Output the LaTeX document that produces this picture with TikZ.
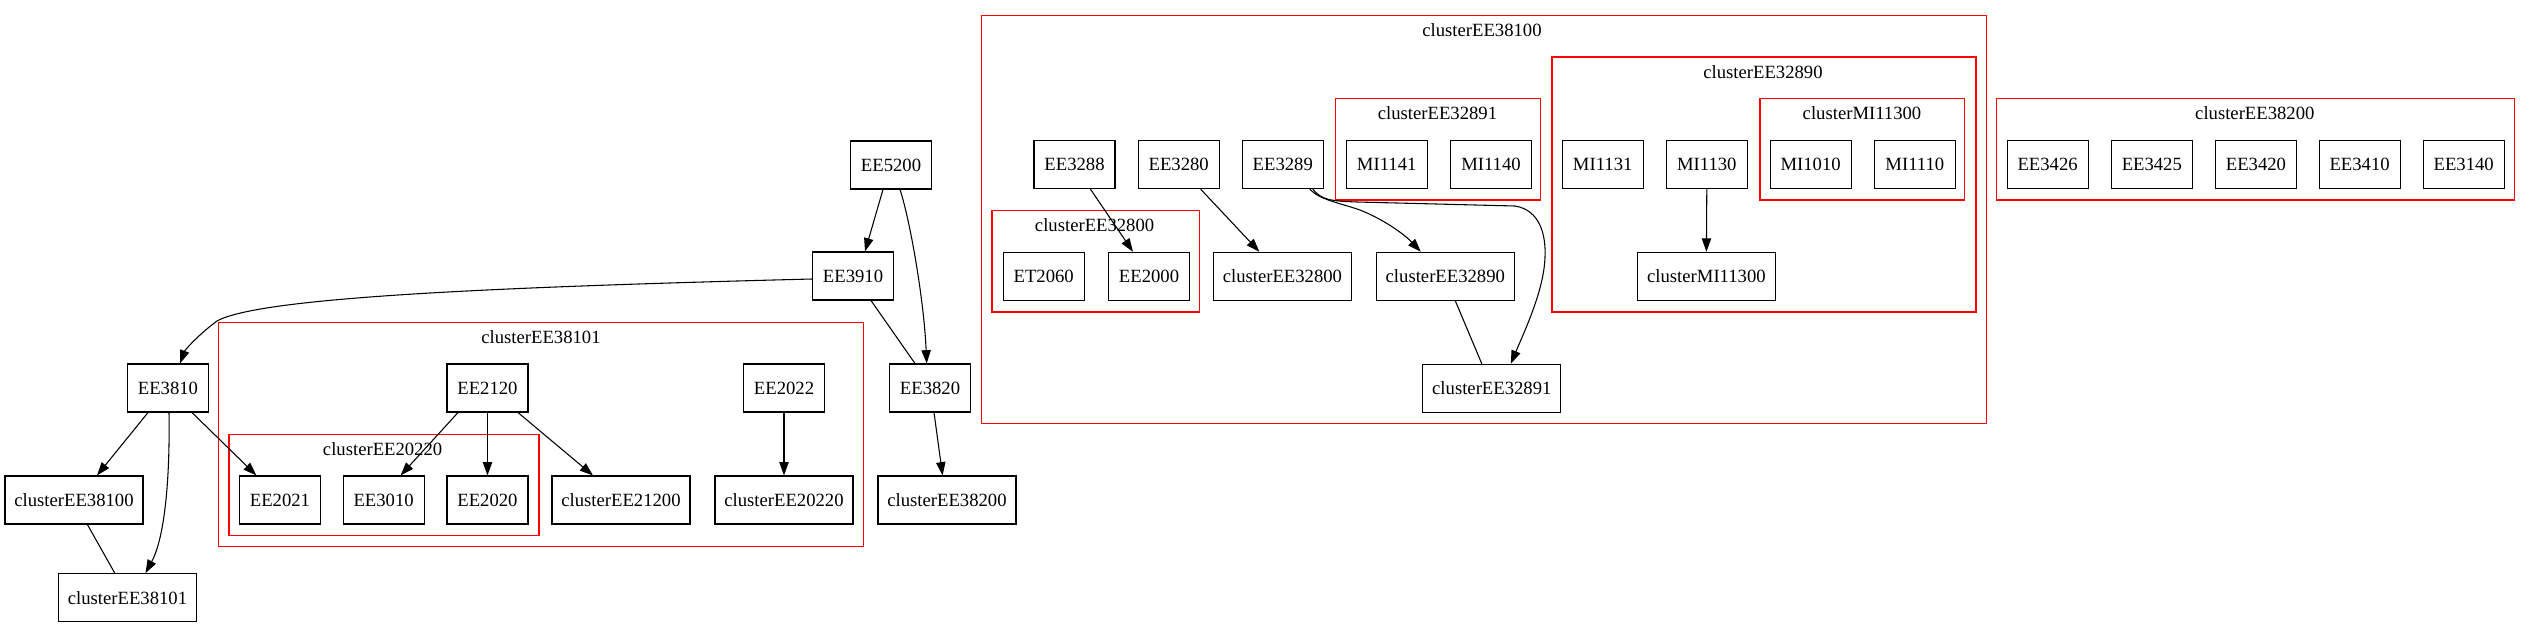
\documentclass[tikz,border=0pt]{standalone}
\usepackage{fontspec}
\setmainfont{Liberation Serif}
\usetikzlibrary{arrows.meta,calc}
\begin{document}
\begin{tikzpicture}[x=0.75pt,y=-0.75pt,
  font=\fontsize{14pt}{16pt}\selectfont,
  box/.style={draw, line width=0.8pt, rectangle, minimum height=36pt, minimum width=60.75pt, inner sep=0pt},
  wide/.style={box, minimum width=103.5pt},
  clus/.style={draw=red, line width=0.8pt},
  clab/.style={inner sep=0pt},
  edge/.style={line width=0.8pt, -{Triangle[length=10pt,width=7pt]}},
  plain/.style={line width=0.8pt}]
\useasboundingbox (0,0) rectangle (2531,628);

% clusters
\draw[clus] (218.7,322.3) rectangle (863.5,546.3);
\node[clab] (lEE38101) at (541,337.3) {clusterEE38101};
\draw[clus] (229,434.3) rectangle (539,535.7);
\node[clab] (lEE20220) at (382.6,449.3) {clusterEE20220};
\draw[clus] (981.4,15.7) rectangle (1986.8,423.7);
\node[clab] (lEE38100) at (1482,30) {clusterEE38100};
\draw[clus] (1335.8,98.7) rectangle (1540.7,200);
\node[clab] (lEE32891) at (1437.5,113.3) {clusterEE32891};
\draw[clus] (1552,57) rectangle (1976,312);
\node[clab] (lEE32890) at (1763,72) {clusterEE32890};
\draw[clus] (1760,98.7) rectangle (1964.7,200);
\node[clab] (lMI11300) at (1862,113.3) {clusterMI11300};
\draw[clus] (992,210.7) rectangle (1199.8,312);
\node[clab] (lEE32800) at (1094.6,225.3) {clusterEE32800};
\draw[clus] (1996.9,98.3) rectangle (2514.4,200);
\node[clab] (lEE38200) at (2254.8,113.3) {clusterEE38200};

% nodes left part
\node[box] (EE5200) at (891,165) {EE5200};
\node[box] (EE3910) at (853,276) {EE3910};
\node[box] (EE3810) at (168,388) {EE3810};
\node[box] (EE3820) at (930,388) {EE3820};
\node[box] (EE2120) at (487.5,388) {EE2120};
\node[box] (EE2022) at (784,388) {EE2022};
\node[wide] (cEE38100) at (74,500) {clusterEE38100};
\node[box] (EE2021) at (280,500) {EE2021};
\node[box] (EE3010) at (383.6,500) {EE3010};
\node[box] (EE2020) at (487.5,500) {EE2020};
\node[wide] (cEE21200) at (621,500) {clusterEE21200};
\node[wide] (cEE20220) at (784,500) {clusterEE20220};
\node[wide] (cEE38200) at (947,500) {clusterEE38200};
\node[wide] (cEE38101) at (127.5,597.7) {clusterEE38101};

% nodes middle part
\node[box] (EE3288) at (1074.5,164.7) {EE3288};
\node[box] (EE3280) at (1178.7,164.7) {EE3280};
\node[box] (EE3289) at (1282.8,164.7) {EE3289};
\node[box] (MI1141) at (1386.7,164.7) {MI1141};
\node[box] (MI1140) at (1491,164.7) {MI1140};
\node[box] (MI1131) at (1602.7,164.7) {MI1131};
\node[box] (MI1130) at (1706.8,164.7) {MI1130};
\node[box] (MI1010) at (1810.6,164.7) {MI1010};
\node[box] (MI1110) at (1914.8,164.7) {MI1110};
\node[box] (ET2060) at (1043.7,276.3) {ET2060};
\node[box] (EE2000) at (1149,276.3) {EE2000};
\node[wide] (cEE32800) at (1282.4,276.3) {clusterEE32800};
\node[wide] (cEE32890) at (1445.3,276.3) {clusterEE32890};
\node[wide] (cMI11300) at (1706.4,276.3) {clusterMI11300};
\node[wide] (cEE32891) at (1491.8,388.3) {clusterEE32891};

% nodes right part
\node[box] (EE3426) at (2047.6,164.3) {EE3426};
\node[box] (EE3425) at (2151.8,164.3) {EE3425};
\node[box] (EE3420) at (2255.9,164.3) {EE3420};
\node[box] (EE3410) at (2359.6,164.3) {EE3410};
\node[box] (EE3140) at (2463.7,164.3) {EE3140};

% edges
\draw[edge] ($(EE5200.south)+(-8,0)$) -- ($(EE3910.north)+(12,0)$);
\draw[edge] ($(EE5200.south)+(9,0)$) .. controls (910,220) and (924,300) .. ($(EE3820.north)+(-3.3,0)$);
\draw[edge] ($(EE3910.west)+(0,3)$) .. controls (500,287) and (260,297) .. (217,321) .. controls (198,335) and (185,350) .. ($(EE3810.north)+(12,0)$);
\draw[plain] ($(EE3910.south)+(18,0)$) -- ($(EE3820.north)+(-15,0)$);
\draw[edge] ($(EE3810.south)+(-20,0)$) -- ($(cEE38100.north)+(23,0)$);
\draw[edge] ($(EE3810.south)+(1,0)$) .. controls (170,470) and (166,535) .. ($(cEE38101.north)+(18,0)$);
\draw[edge] ($(EE3810.south)+(24,0)$) -- ($(EE2021.north)+(-23.6,0)$);
\draw[plain] ($(cEE38100.south)+(13.4,0)$) -- ($(cEE38101.north)+(-12.7,0)$);
\draw[edge] ($(EE2120.south)+(-29.5,0)$) -- ($(EE3010.north)+(17,0)$);
\draw[edge] (EE2120.south) -- (EE2020.north);
\draw[edge] ($(EE2120.south)+(30.5,0)$) -- ($(cEE21200.north)+(-28,0)$);
\draw[edge] (EE2022.south) -- (cEE20220.north);
\draw[edge] ($(EE3820.south)+(4,0)$) -- ($(cEE38200.north)+(-4.4,0)$);

\draw[edge] ($(EE3288.south)+(16,0)$) -- ($(EE2000.north)+(-16,0)$);
\draw[edge] ($(EE3280.south)+(22,0)$) -- ($(cEE32800.north)+(-23,0)$);
\draw[edge] ($(EE3289.south)+(27,0)$) .. controls (1320,200) and (1340,203) .. (1360,210) .. controls (1385,220) and (1405,235) .. ($(cEE32890.north)+(-24.5,0)$);
\draw[edge] ($(EE3289.south)+(30,0)$) .. controls (1322,200) and (1330,201) .. (1357,202) -- (1515,206) .. controls (1540,210) and (1546,235) .. (1545,257) .. controls (1544,290) and (1525,330) .. ($(cEE32891.north)+(19,0)$);
\draw[plain] ($(cEE32890.south)+(10,0)$) -- ($(cEE32891.north)+(-10,0)$);
\draw[edge] (MI1130.south) -- (cMI11300.north);
\end{tikzpicture}
\end{document}
